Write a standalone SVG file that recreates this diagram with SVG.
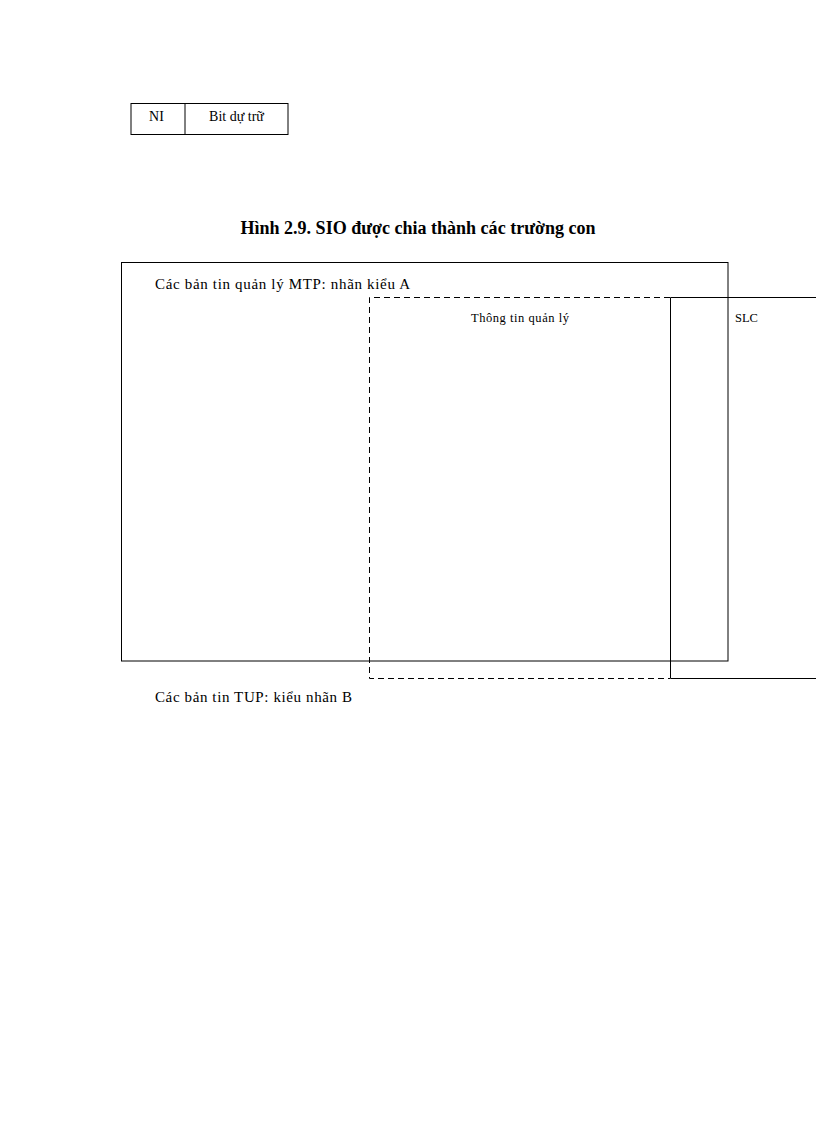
<svg xmlns="http://www.w3.org/2000/svg" width="816" height="1123" viewBox="0 0 816 1123">
<style>
.t{font-family:"Liberation Serif","Times New Roman",serif;fill:#000}
.ln{fill:none;stroke:#000;stroke-width:1}
.ds{fill:none;stroke:#000;stroke-width:1;stroke-dasharray:6,4}
</style>
<rect width="816" height="1123" fill="#fff"/>
<g id="field-table">
<rect class="ln" x="131" y="103.5" width="157" height="31"/>
<line class="ln" x1="185" y1="103.5" x2="185" y2="134.5"/>
<text class="t" x="156.5" y="121" font-size="14" text-anchor="middle">NI</text>
<text class="t" x="236.5" y="121" font-size="14" text-anchor="middle">Bit dự trữ</text>
</g>
<g id="title">
<text class="t" x="418" y="234" font-size="18" font-weight="bold" text-anchor="middle" textLength="355" lengthAdjust="spacingAndGlyphs">Hình 2.9. SIO được chia thành các trường con</text>
</g>
<g id="mtp-box">
<rect class="ln" x="121.5" y="262.5" width="606.5" height="398.5"/>
<text class="t" x="155" y="289" font-size="15" textLength="255" lengthAdjust="spacing">Các bản tin quản lý MTP: nhãn kiểu A</text>
</g>
<g id="management-info">
<polyline class="ds" points="670,297.5 369.5,297.5 369.5,678.5 670,678.5"/>
<text class="t" x="471" y="322" font-size="12.5" textLength="98" lengthAdjust="spacing">Thông tin quản lý</text>
</g>
<g id="slc">
<polyline class="ln" points="816,297.5 670.5,297.5 670.5,678.5 816,678.5"/>
<text class="t" x="735" y="322" font-size="12.5">SLC</text>
</g>
<g id="tup-label">
<text class="t" x="155" y="702" font-size="15" textLength="197" lengthAdjust="spacing">Các bản tin TUP: kiểu nhãn B</text>
</g>
<g id="connectors"></g>
</svg>
